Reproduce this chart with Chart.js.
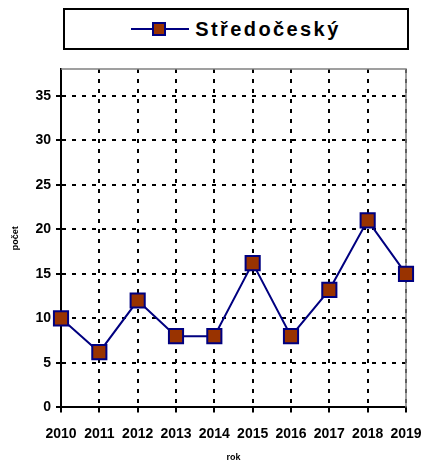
<!DOCTYPE html>
<html>
<head>
<meta charset="utf-8">
<script src="https://cdn.jsdelivr.net/npm/chart.js@4/dist/chart.umd.min.js"></script>
<style>
  html, body { margin: 0; padding: 0; background: #fff; }
  #wrap { position: relative; width: 425px; height: 468px; }
  #legend {
    position: absolute; left: 63px; top: 8px; width: 342px; height: 38px;
    border: 2px solid #000; background: #fff;
    font: bold 20px "Liberation Sans", Arial, sans-serif; letter-spacing: 2.4px;
    display: flex; align-items: center; justify-content: center;
  }
  #legend canvas { margin-right: 6px; }
</style>
</head>
<body>
<div id="wrap">
  <canvas id="chart" width="425" height="468"></canvas>
  <div id="legend"><canvas id="key" width="58" height="16"></canvas><span>Středočeský</span></div>
</div>
<script>
const years = ['2010', '2011', '2012', '2013', '2014', '2015', '2016', '2017', '2018', '2019'];
const pocet = [10, 6.2, 12, 8, 8, 16.2, 8, 13.2, 21, 15];
const seriesName = 'Středočeský';

const lineColor = '#000080';
const markerColor = '#993300';

// legend key: line + square marker
function drawKey() {
    const ctx = document.getElementById('key').getContext('2d');
    ctx.strokeStyle = lineColor;
    ctx.lineWidth = 2;
    ctx.beginPath();
    ctx.moveTo(0, 8);
    ctx.lineTo(58, 8);
    ctx.stroke();
    ctx.fillStyle = markerColor;
    ctx.fillRect(22, 2, 12, 12);
    ctx.strokeRect(22, 2, 12, 12);
}

// grey frame on top and right of plot
const frame = {
    id: 'frame',
    beforeDatasetsDraw(chart) {
        const a = chart.chartArea;
        const ctx = chart.ctx;
        ctx.save();
        ctx.strokeStyle = '#808080';
        ctx.lineWidth = 1.5;
        ctx.beginPath();
        ctx.moveTo(a.left, a.top);
        ctx.lineTo(a.right, a.top);
        ctx.lineTo(a.right, a.bottom);
        ctx.stroke();
        ctx.restore();
    }
};

const font = { family: '"Liberation Sans", Arial, sans-serif', size: 14, weight: 'bold' };
const titleFont = { family: font.family, size: 9, weight: 'bold' };

new Chart(document.getElementById('chart').getContext('2d'), {
    type: 'line',
    data: {
        labels: years,
        datasets: [{
            label: seriesName,
            data: pocet,
            borderColor: lineColor,
            borderWidth: 2,
            pointStyle: 'rect',
            pointRadius: 10,
            pointBackgroundColor: markerColor,
            pointBorderColor: lineColor,
            pointBorderWidth: 2,
            fill: false,
            tension: 0
        }]
    },
    options: {
        responsive: false,
        animation: false,
        layout: { padding: { top: 69, right: 19, left: 6, bottom: 3 } },
        plugins: { legend: { display: false }, tooltip: { enabled: false } },
        scales: {
            x: {
                offset: false,
                afterFit(axis) {
                    axis.paddingLeft = 0;
                    axis.paddingRight = 0;
                },
                grid: { color: '#000', lineWidth: 2, tickLength: 5, tickBorderDash: [], tickColor: '#000' },
                border: { color: '#000', width: 2, dash: [4, 6] },
                ticks: { color: '#000', font: font, maxRotation: 0, padding: 13 },
                title: { display: true, text: 'rok', color: '#000', font: titleFont, padding: { top: -3, bottom: 2 } }
            },
            y: {
                min: 0,
                max: 38,
                afterBuildTicks(axis) {
                    axis.ticks = axis.ticks.filter(t => t.value % 5 === 0);
                },
                afterFit(axis) {
                    axis.width = 55;
                },
                grid: { color: '#000', lineWidth: 2, tickLength: 5, tickBorderDash: [], tickColor: '#000' },
                border: { color: '#000', width: 2, dash: [4, 6] },
                ticks: { color: '#000', font: font, stepSize: 5, padding: 5 },
                title: { display: true, text: 'počet', color: '#000', font: titleFont, padding: { bottom: 12 } }
            }
        }
    },
    plugins: [frame]
});

drawKey();
</script>
</body>
</html>
